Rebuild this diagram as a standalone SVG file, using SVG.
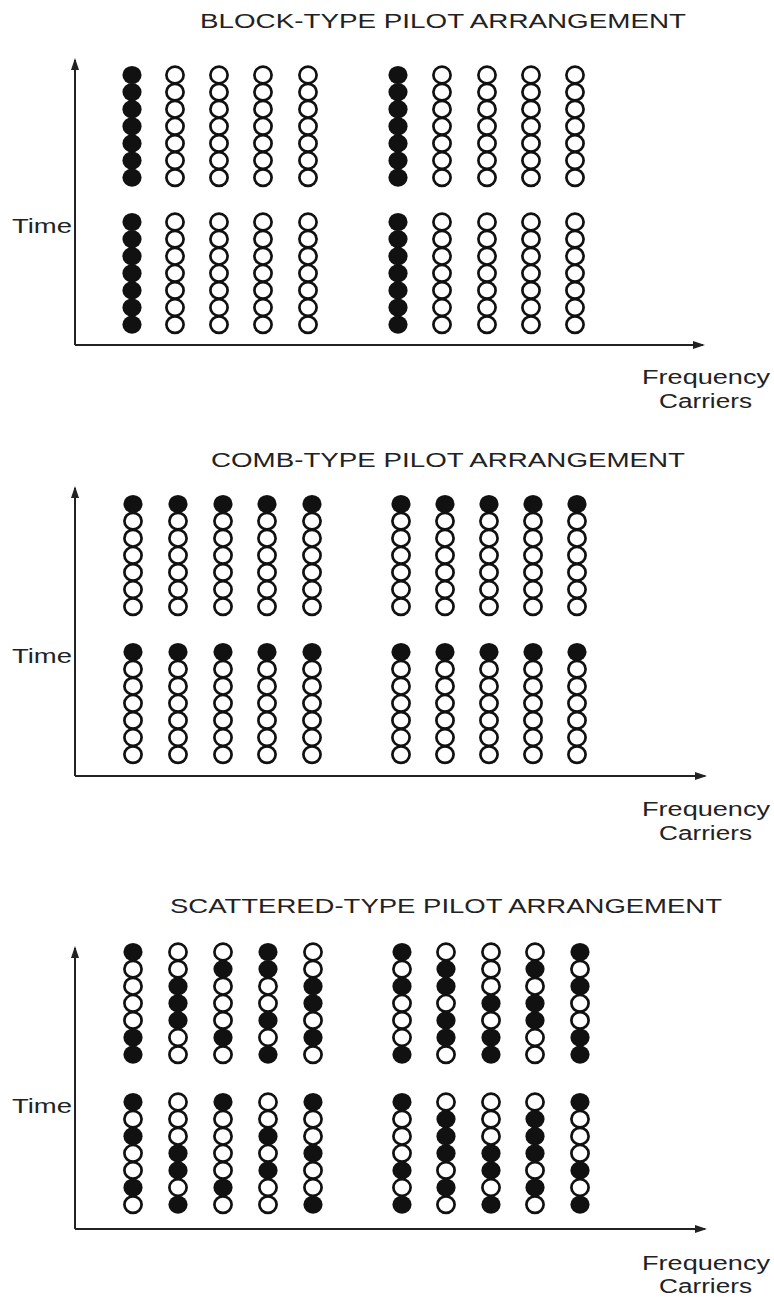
<svg xmlns="http://www.w3.org/2000/svg" xmlns:xlink="http://www.w3.org/1999/xlink" width="774" height="1297" viewBox="0 0 774 1297">
<style>
text{font-family:"Liberation Sans",Arial,sans-serif;fill:#222;font-size:20px}
.ax{stroke:#222;stroke-width:2;fill:none}
</style>
<defs>
<marker id="arr" markerWidth="12" markerHeight="8" refX="10" refY="4" orient="auto" markerUnits="userSpaceOnUse"><path d="M0,0 L12,4 L0,8 z" fill="#222"/></marker>
<g id="o"><ellipse rx="8.6" ry="8.3" fill="none" stroke="#111" stroke-width="2.7"/></g>
<g id="f"><ellipse rx="9.6" ry="9.1" fill="#111"/></g>
<g id="c-o7"><use href="#o"/><use href="#o" y="17.1"/><use href="#o" y="34.2"/><use href="#o" y="51.3"/><use href="#o" y="68.4"/><use href="#o" y="85.5"/><use href="#o" y="102.6"/></g>
<g id="c-f7"><use href="#f"/><use href="#f" y="17.1"/><use href="#f" y="34.2"/><use href="#f" y="51.3"/><use href="#f" y="68.4"/><use href="#f" y="85.5"/><use href="#f" y="102.6"/></g>
<g id="c-comb"><use href="#f"/><use href="#o" y="17.1"/><use href="#o" y="34.2"/><use href="#o" y="51.3"/><use href="#o" y="68.4"/><use href="#o" y="85.5"/><use href="#o" y="102.6"/></g>
</defs>
<rect width="774" height="1297" fill="#fff"/>

<!-- BLOCK -->
<g id="block">
<text x="200" y="28" textLength="486" lengthAdjust="spacingAndGlyphs">BLOCK-TYPE PILOT ARRANGEMENT</text>
<text x="12" y="233" textLength="60" lengthAdjust="spacingAndGlyphs">Time</text>
<text x="642" y="384" textLength="128" lengthAdjust="spacingAndGlyphs">Frequency</text>
<text x="659" y="408" textLength="93" lengthAdjust="spacingAndGlyphs">Carriers</text>
<g id="block-grid">
<use href="#c-f7" x="132" y="75"/><use href="#c-o7" x="175" y="75"/><use href="#c-o7" x="219" y="75"/><use href="#c-o7" x="263" y="75"/><use href="#c-o7" x="308" y="75"/>
<use href="#c-f7" x="398" y="75"/><use href="#c-o7" x="442" y="75"/><use href="#c-o7" x="487" y="75"/><use href="#c-o7" x="531" y="75"/><use href="#c-o7" x="575" y="75"/>
<use href="#c-f7" x="132" y="222"/><use href="#c-o7" x="175" y="222"/><use href="#c-o7" x="219" y="222"/><use href="#c-o7" x="263" y="222"/><use href="#c-o7" x="308" y="222"/>
<use href="#c-f7" x="398" y="222"/><use href="#c-o7" x="442" y="222"/><use href="#c-o7" x="487" y="222"/><use href="#c-o7" x="531" y="222"/><use href="#c-o7" x="575" y="222"/>
</g>
</g>

<!-- COMB -->
<g id="comb">
<text x="211" y="467" textLength="474" lengthAdjust="spacingAndGlyphs">COMB-TYPE PILOT ARRANGEMENT</text>
<text x="12" y="663" textLength="60" lengthAdjust="spacingAndGlyphs">Time</text>
<text x="642" y="816" textLength="128" lengthAdjust="spacingAndGlyphs">Frequency</text>
<text x="659" y="840" textLength="93" lengthAdjust="spacingAndGlyphs">Carriers</text>
<g id="comb-grid">
<use href="#c-comb" x="133" y="504"/><use href="#c-comb" x="178" y="504"/><use href="#c-comb" x="223" y="504"/><use href="#c-comb" x="267" y="504"/><use href="#c-comb" x="312" y="504"/>
<use href="#c-comb" x="401" y="504"/><use href="#c-comb" x="445" y="504"/><use href="#c-comb" x="489" y="504"/><use href="#c-comb" x="533" y="504"/><use href="#c-comb" x="577" y="504"/>
<use href="#c-comb" x="133" y="652"/><use href="#c-comb" x="178" y="652"/><use href="#c-comb" x="223" y="652"/><use href="#c-comb" x="267" y="652"/><use href="#c-comb" x="312" y="652"/>
<use href="#c-comb" x="401" y="652"/><use href="#c-comb" x="445" y="652"/><use href="#c-comb" x="489" y="652"/><use href="#c-comb" x="533" y="652"/><use href="#c-comb" x="577" y="652"/>
</g>
</g>

<!-- SCATTERED -->
<g id="scattered">
<text x="170" y="913" textLength="552" lengthAdjust="spacingAndGlyphs">SCATTERED-TYPE PILOT ARRANGEMENT</text>
<text x="12" y="1113" textLength="60" lengthAdjust="spacingAndGlyphs">Time</text>
<text x="642" y="1270" textLength="128" lengthAdjust="spacingAndGlyphs">Frequency</text>
<text x="659" y="1293" textLength="93" lengthAdjust="spacingAndGlyphs">Carriers</text>
<g id="scattered-grid">
<!-- left top -->
<g transform="translate(133,952)"><use href="#f"/><use href="#o" y="17.1"/><use href="#o" y="34.2"/><use href="#o" y="51.3"/><use href="#o" y="68.4"/><use href="#f" y="85.5"/><use href="#f" y="102.6"/></g>
<g transform="translate(178,952)"><use href="#o"/><use href="#o" y="17.1"/><use href="#f" y="34.2"/><use href="#f" y="51.3"/><use href="#f" y="68.4"/><use href="#o" y="85.5"/><use href="#o" y="102.6"/></g>
<g transform="translate(223,952)"><use href="#o"/><use href="#f" y="17.1"/><use href="#o" y="34.2"/><use href="#o" y="51.3"/><use href="#o" y="68.4"/><use href="#f" y="85.5"/><use href="#o" y="102.6"/></g>
<g transform="translate(268,952)"><use href="#f"/><use href="#f" y="17.1"/><use href="#o" y="34.2"/><use href="#o" y="51.3"/><use href="#f" y="68.4"/><use href="#o" y="85.5"/><use href="#f" y="102.6"/></g>
<g transform="translate(313,952)"><use href="#o"/><use href="#o" y="17.1"/><use href="#f" y="34.2"/><use href="#f" y="51.3"/><use href="#o" y="68.4"/><use href="#f" y="85.5"/><use href="#o" y="102.6"/></g>
<!-- left bottom -->
<g transform="translate(133,1102)"><use href="#f"/><use href="#o" y="17.1"/><use href="#f" y="34.2"/><use href="#o" y="51.3"/><use href="#o" y="68.4"/><use href="#f" y="85.5"/><use href="#o" y="102.6"/></g>
<g transform="translate(178,1102)"><use href="#o"/><use href="#o" y="17.1"/><use href="#o" y="34.2"/><use href="#f" y="51.3"/><use href="#f" y="68.4"/><use href="#o" y="85.5"/><use href="#f" y="102.6"/></g>
<g transform="translate(223,1102)"><use href="#f"/><use href="#o" y="17.1"/><use href="#o" y="34.2"/><use href="#o" y="51.3"/><use href="#o" y="68.4"/><use href="#f" y="85.5"/><use href="#o" y="102.6"/></g>
<g transform="translate(268,1102)"><use href="#o"/><use href="#o" y="17.1"/><use href="#f" y="34.2"/><use href="#o" y="51.3"/><use href="#f" y="68.4"/><use href="#o" y="85.5"/><use href="#o" y="102.6"/></g>
<g transform="translate(313,1102)"><use href="#f"/><use href="#o" y="17.1"/><use href="#o" y="34.2"/><use href="#f" y="51.3"/><use href="#o" y="68.4"/><use href="#o" y="85.5"/><use href="#f" y="102.6"/></g>
<!-- right top -->
<g transform="translate(402,952)"><use href="#f"/><use href="#o" y="17.1"/><use href="#f" y="34.2"/><use href="#o" y="51.3"/><use href="#o" y="68.4"/><use href="#o" y="85.5"/><use href="#f" y="102.6"/></g>
<g transform="translate(446,952)"><use href="#o"/><use href="#f" y="17.1"/><use href="#f" y="34.2"/><use href="#o" y="51.3"/><use href="#f" y="68.4"/><use href="#f" y="85.5"/><use href="#o" y="102.6"/></g>
<g transform="translate(491,952)"><use href="#o"/><use href="#o" y="17.1"/><use href="#o" y="34.2"/><use href="#f" y="51.3"/><use href="#o" y="68.4"/><use href="#f" y="85.5"/><use href="#f" y="102.6"/></g>
<g transform="translate(535,952)"><use href="#o"/><use href="#f" y="17.1"/><use href="#o" y="34.2"/><use href="#f" y="51.3"/><use href="#f" y="68.4"/><use href="#o" y="85.5"/><use href="#o" y="102.6"/></g>
<g transform="translate(580,952)"><use href="#f"/><use href="#o" y="17.1"/><use href="#f" y="34.2"/><use href="#o" y="51.3"/><use href="#o" y="68.4"/><use href="#f" y="85.5"/><use href="#f" y="102.6"/></g>
<!-- right bottom -->
<g transform="translate(402,1102)"><use href="#f"/><use href="#o" y="17.1"/><use href="#o" y="34.2"/><use href="#o" y="51.3"/><use href="#f" y="68.4"/><use href="#o" y="85.5"/><use href="#f" y="102.6"/></g>
<g transform="translate(446,1102)"><use href="#o"/><use href="#f" y="17.1"/><use href="#f" y="34.2"/><use href="#f" y="51.3"/><use href="#o" y="68.4"/><use href="#f" y="85.5"/><use href="#o" y="102.6"/></g>
<g transform="translate(491,1102)"><use href="#o"/><use href="#o" y="17.1"/><use href="#o" y="34.2"/><use href="#f" y="51.3"/><use href="#f" y="68.4"/><use href="#o" y="85.5"/><use href="#f" y="102.6"/></g>
<g transform="translate(535,1102)"><use href="#o"/><use href="#f" y="17.1"/><use href="#f" y="34.2"/><use href="#f" y="51.3"/><use href="#o" y="68.4"/><use href="#f" y="85.5"/><use href="#o" y="102.6"/></g>
<g transform="translate(580,1102)"><use href="#f"/><use href="#o" y="17.1"/><use href="#o" y="34.2"/><use href="#o" y="51.3"/><use href="#f" y="68.4"/><use href="#o" y="85.5"/><use href="#f" y="102.6"/></g>
</g>
</g>

<!-- AXES (connectors) -->
<g id="connectors">
<line class="ax" x1="75" y1="345" x2="75" y2="60" marker-end="url(#arr)"/>
<line class="ax" x1="75" y1="345" x2="703" y2="345" marker-end="url(#arr)"/>
<line class="ax" x1="75" y1="776" x2="75" y2="488" marker-end="url(#arr)"/>
<line class="ax" x1="75" y1="776" x2="705" y2="776" marker-end="url(#arr)"/>
<line class="ax" x1="75" y1="1229" x2="75" y2="948" marker-end="url(#arr)"/>
<line class="ax" x1="75" y1="1229" x2="705" y2="1229" marker-end="url(#arr)"/>
</g>
</svg>
